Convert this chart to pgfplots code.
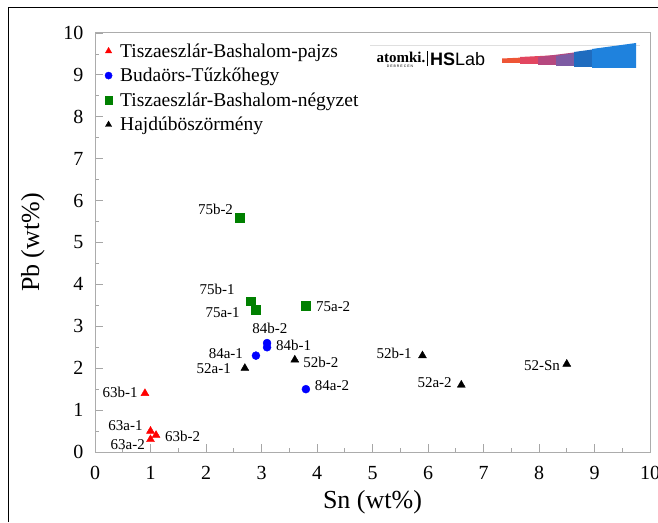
\documentclass[border=0pt]{standalone}
\usepackage{fontspec}
\setmainfont{Liberation Serif}
\newfontfamily\logosans{Liberation Sans}
\usepackage{pgfplots}
\pgfplotsset{compat=1.18}

\definecolor{cA}{HTML}{EE5535}
\definecolor{cB}{HTML}{E24660}
\definecolor{cC}{HTML}{B5487F}
\definecolor{cD}{HTML}{7D5BA3}
\definecolor{cE}{HTML}{1F6CBF}
\definecolor{cF}{HTML}{1F82DD}
\definecolor{grn}{RGB}{0,128,0}

\begin{document}
\begin{tikzpicture}
\begin{axis}[
    scale only axis, width=555pt, height=419pt,
    xmin=0, xmax=10, ymin=0, ymax=10,
    xtick={0,...,10}, ytick={0,...,10},
    minor tick num=1,
    tick align=inside, tick pos=left,
    major tick length=8pt, minor tick length=4.5pt,
    axis line style={gray!65, line width=1pt},
    tick style={gray!70, line width=0.8pt},
    /pgf/number format/assume math mode=true,
    tick label style={font=\fontsize{20}{24}\selectfont, black},
    xticklabel style={yshift=-11pt},
    yticklabel style={xshift=-8pt},
    every axis x label/.style={at={(axis description cs:0.5,-0.12)}, anchor=center},
    every axis y label/.style={at={(axis description cs:-0.112,0.5)}, rotate=90, anchor=center},
    label style={font=\fontsize{26}{30}\selectfont},
    xlabel={Sn (wt\%)}, ylabel={Pb (wt\%)},
    clip=false,
    legend cell align=left,
    legend image post style={mark size=3.6pt},
    legend style={at={(0.014,0.985)}, anchor=north west, draw=none, fill=none,
      font=\fontsize{19.5}{23}\selectfont, row sep=5.5pt, inner sep=2pt,
      /tikz/every odd column/.append style={column sep=6pt}},
  ]
  \addplot[only marks, mark=triangle*, mark size=4.6pt, color=red]
    coordinates {(0.9,1.4) (1.0,0.5) (1.1,0.4) (1.0,0.3)};
  \addlegendentry{Tiszaeszlár-Bashalom-pajzs}
  \addplot[only marks, mark=*, mark size=4pt, color=blue]
    coordinates {(2.9,2.3) (3.1,2.6) (3.1,2.5) (3.8,1.5)};
  \addlegendentry{Budaörs-Tűzkőhegy}
  \addplot[only marks, mark=square*, mark size=4.4pt, color=grn]
    coordinates {(2.6,5.6) (2.8,3.6) (2.9,3.4) (3.8,3.5)};
  \addlegendentry{Tiszaeszlár-Bashalom-négyzet}
  \addplot[only marks, mark=triangle*, mark size=4.6pt, color=black]
    coordinates {(2.7,2.0) (3.6,2.2) (5.9,2.3) (6.6,1.6) (8.5,2.1)};
  \addlegendentry{Hajdúböszörmény}

  % point labels
  \begin{scope}[every node/.style={font=\fontsize{15}{18}\selectfont, inner sep=0pt}]
  \node[anchor=east] at (axis cs:2.49,5.78) {75b-2};
  \node[anchor=east] at (axis cs:2.52,3.89) {75b-1};
  \node[anchor=east] at (axis cs:2.61,3.32) {75a-1};
  \node[anchor=west] at (axis cs:3.98,3.48) {75a-2};
  \node at (axis cs:3.15,2.94) {84b-2};
  \node[anchor=west] at (axis cs:3.26,2.55) {84b-1};
  \node[anchor=east] at (axis cs:2.67,2.36) {84a-1};
  \node[anchor=east] at (axis cs:2.45,1.98) {52a-1};
  \node[anchor=west] at (axis cs:3.75,2.15) {52b-2};
  \node[anchor=west] at (axis cs:3.96,1.58) {84a-2};
  \node[anchor=east] at (axis cs:5.71,2.36) {52b-1};
  \node[anchor=east] at (axis cs:6.43,1.65) {52a-2};
  \node[anchor=east] at (axis cs:8.38,2.05) {52-Sn};
  \node[anchor=east] at (axis cs:0.77,1.43) {63b-1};
  \node[anchor=east] at (axis cs:0.86,0.64) {63a-1};
  \node[anchor=west] at (axis cs:1.26,0.38) {63b-2};
  \node[anchor=east] at (axis cs:0.90,0.17) {63a-2};
  \end{scope}
\end{axis}

\begin{scope}[shift={(current axis.south west)}, x=1pt, y=1pt]
  % logo
  \draw[gray!25, line width=0.6pt] (275,407) -- (545,407);
  \node[font=\bfseries\fontsize{15}{15}\selectfont, inner sep=0pt] at (306,395) {atomki.};
  \node[font=\logosans\fontsize{3.5}{3.5}\selectfont, inner sep=0pt] at (305,386) {D E B R E C E N};
  \draw[black, line width=0.5pt] (332,386) -- (332,401);
  \node[font=\logosans\fontsize{18}{18}\selectfont, inner sep=0pt, anchor=west] at (335,393) {\textbf{HS}Lab};
  \fill[cA] (407,389) -- (407,393.5) -- (450,395.5) -- (450,389) -- cycle;
  \fill[cB] (425,388) -- (425,395) -- (465,397) -- (465,388) -- cycle;
  \fill[cC] (443,387) -- (443,395) -- (483,400) -- (483,387) -- cycle;
  \fill[cD] (461,386) -- (461,396) -- (505,403) -- (505,386) -- cycle;
  \fill[cE] (479,385) -- (479,400) -- (523,406) -- (523,385) -- cycle;
  \fill[cF] (497,384) -- (497,403) -- (541,409) -- (541,384) -- cycle;
  % outer frame and page size
  \pgfresetboundingbox
  \path[use as bounding box] (-95,-70) rectangle (563,452);
  \draw[black, line width=1pt] (-86,-70) -- (-86,444) -- (563,444);
\end{scope}
\end{tikzpicture}
\end{document}
